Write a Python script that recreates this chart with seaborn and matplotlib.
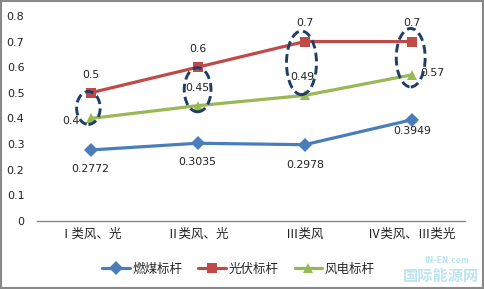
import matplotlib
matplotlib.use("Agg")
import matplotlib.pyplot as plt
from matplotlib.patches import Ellipse
import seaborn as sns
import pandas as pd
import numpy as np

categories = ["Ⅰ类风、光", "Ⅱ类风、光", "Ⅲ类风", "Ⅳ类风、Ⅲ类光"]
coal = [0.2772, 0.3035, 0.2978, 0.3949]
pv = [0.5, 0.6, 0.7, 0.7]
wind = [0.4, 0.45, 0.49, 0.57]
series_names = ["燃煤标杆", "光伏标杆", "风电标杆"]
yticks = [0, 0.1, 0.2, 0.3, 0.4, 0.5, 0.6, 0.7, 0.8]
ytick_labels = ["0", "0.1", "0.2", "0.3", "0.4", "0.5", "0.6", "0.7", "0.8"]

sns.set_style("white")
plt.rcParams['font.family'] = ['Noto Sans CJK SC', 'DejaVu Sans']

rows = []
for name, vals in zip(series_names, [coal, pv, wind]):
    for i, v in enumerate(vals):
        rows.append({"x": i, "value": v, "series": name})
df = pd.DataFrame(rows)

colors = {"燃煤标杆": "#4A7EBB", "光伏标杆": "#BE4B48", "风电标杆": "#98B954"}
markers = {"燃煤标杆": "D", "光伏标杆": "s", "风电标杆": "^"}

fig = plt.figure(figsize=(4.84, 2.89), dpi=100)
ax = fig.add_axes([0.0764, 0.235, 0.885, 0.71])

sns.lineplot(data=df, x="x", y="value", hue="series", style="series",
             palette=colors, markers=markers, dashes=False, linewidth=2.3,
             markersize=7.5, markeredgewidth=0, ax=ax, legend=True)

ax.set_xlim(-0.5, 3.5)
ax.set_ylim(0, 0.8)
ax.set_yticks(yticks)
ax.set_yticklabels(ytick_labels, fontsize=8, family='DejaVu Sans')
ax.set_xticks(range(len(categories)))
ax.set_xticklabels(categories, fontsize=9)
ax.tick_params(axis='both', length=0, colors='#222222')
ax.tick_params(axis='x', pad=5)
ax.tick_params(axis='y', pad=9)
ax.set_xlabel("")
ax.set_ylabel("")
for s in ["top", "right", "left"]:
    ax.spines[s].set_visible(False)
ax.spines["bottom"].set_color("#888888")
ax.spines["bottom"].set_linewidth(1.0)

fs = 7.8
fam = 'DejaVu Sans'
# coal labels below
coal_offsets = [(0, -13.5), (0, -13.5), (0, -14.5), (0, -8)]
for i, v in enumerate(coal):
    dx, dy = coal_offsets[i]
    ax.annotate(f"{v:.4f}", (i, v), xytext=(dx, dy), textcoords="offset points",
                ha="center", va="center", fontsize=fs, family=fam, color="#222222")
# pv labels above
for i, v in enumerate(pv):
    ax.annotate(f"{v:g}", (i, v), xytext=(0, 13), textcoords="offset points",
                ha="center", va="center", fontsize=fs, family=fam, color="#222222")
# wind labels
wind_offsets = [(-14, -2), (0, 13), (-2, 13), (15, 1.5)]
for i, v in enumerate(wind):
    dx, dy = wind_offsets[i]
    ax.annotate(f"{v:g}", (i, v), xytext=(dx, dy), textcoords="offset points",
                ha="center", va="center", fontsize=fs, family=fam, color="#222222")

# dashed ellipses
ell = [(-0.02, 0.441, 0.22, 0.128), (0.0, 0.512, 0.25, 0.172),
       (-0.03, 0.617, 0.28, 0.248), (-0.01, 0.637, 0.27, 0.228)]
for i, (dx, cy, w, h) in enumerate(ell):
    e = Ellipse((i + dx, cy), w, h, fill=False, edgecolor="#1F3F66",
                linestyle=(0, (3, 1.5)), linewidth=2.1, zorder=5)
    ax.add_patch(e)

leg = ax.legend(loc="center", bbox_to_anchor=(0.47, -0.235), ncol=3,
                frameon=False, fontsize=9, handlelength=2.2, columnspacing=1.3,
                handletextpad=0.2)

# watermark
fig.text(0.99, 0.045, "国际能源网", ha="right", va="center", fontsize=11,
         color="#7FCBE0", alpha=0.5, weight="bold")
fig.text(0.97, 0.1, "IN-EN.com", ha="right", va="center", fontsize=5.5,
         color="#7FCBE0", alpha=0.5, weight="bold", family='DejaVu Sans')

# border
fig.patches.append(plt.Rectangle((0.002, 0.003), 0.996, 0.994, transform=fig.transFigure,
                                 fill=False, edgecolor="#888888", linewidth=1.5))

fig.savefig("out.png", dpi=100)
